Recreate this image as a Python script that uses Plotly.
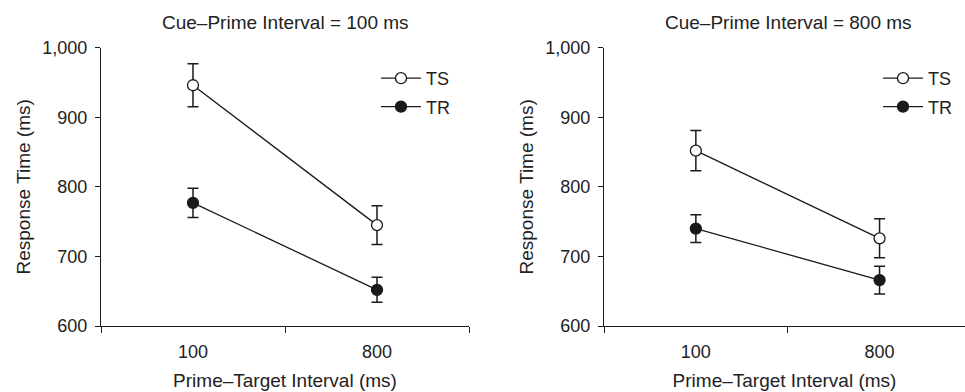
import plotly.graph_objects as go

categories = ["100", "800"]
ts_left = [946, 745]
ts_left_err = [31, 28]
tr_left = [777, 652]
tr_left_err = [21, 18]
ts_right = [852, 726]
ts_right_err = [29, 28]
tr_right = [740, 666]
tr_right_err = [20, 20]
panel_titles = ["Cue\u2013Prime Interval = 100 ms", "Cue\u2013Prime Interval = 800 ms"]
y_ticks = [600, 700, 800, 900, 1000]
y_ticktext = ["600", "700", "800", "900", "1,000"]

INK = "#1a1a1a"
FAM = "'Liberation Sans', Arial, sans-serif"
TICKFONT = dict(family=FAM, size=18, color="#222222")
TITLEFONT = dict(family=FAM, size=19, color="#222222")

fig = go.Figure()

def add_series(y, err, name, filled, xa, ya, legend):
    fig.add_trace(go.Scatter(
        x=categories, y=y, name=name, mode="lines+markers",
        xaxis=xa, yaxis=ya, legend=legend, legendgroup=name,
        line=dict(color=INK, width=1.3),
        marker=dict(symbol="circle", size=11,
                    color=INK if filled else "white",
                    line=dict(color=INK, width=1.3)),
        error_y=dict(type="data", array=err, visible=True,
                     color=INK, thickness=1.5, width=5.5),
    ))

add_series(ts_left, ts_left_err, "TS", False, "x", "y", "legend")
add_series(tr_left, tr_left_err, "TR", True, "x", "y", "legend")
add_series(ts_right, ts_right_err, "TS", False, "x2", "y2", "legend2")
add_series(tr_right, tr_right_err, "TR", True, "x2", "y2", "legend2")

W, H = 965, 392
ytop, ybot = 47.7, 326.0
ydom = [1 - ybot / H, 1 - ytop / H]

xcommon = dict(type="category", tickson="boundaries", ticks="outside", ticklen=6,
               tickwidth=1.3, tickcolor=INK, showline=True, linecolor=INK, linewidth=1.3,
               showgrid=False, zeroline=False, tickfont=TICKFONT, ticklabelstandoff=9,
               title=dict(text="Prime\u2013Target Interval (ms)", font=TITLEFONT, standoff=12),
               automargin=False, fixedrange=True)
ycommon = dict(range=[600, 1000], tickvals=y_ticks, ticktext=y_ticktext, ticks="outside",
               ticklen=5, tickwidth=1.3, tickcolor=INK, showline=True, linecolor=INK,
               linewidth=1.3, showgrid=False, zeroline=False, tickfont=TICKFONT,
               ticklabelstandoff=4,
               title=dict(text="Response Time (ms)", font=TITLEFONT, standoff=6),
               automargin=False, fixedrange=True)

fig.update_layout(
    width=W, height=H, margin=dict(l=0, r=0, t=0, b=0),
    paper_bgcolor="white", plot_bgcolor="white", font=TICKFONT,
    xaxis=dict(xcommon, domain=[101 / W, 469 / W], range=[-0.5, 1.5], anchor="y"),
    xaxis2=dict(xcommon, domain=[604 / W, 1.0], range=[-0.5, 1.465], anchor="y2"),
    yaxis=dict(ycommon, domain=ydom, anchor="x"),
    yaxis2=dict(ycommon, domain=ydom, anchor="x2"),
    legend=dict(x=376 / W, y=1 - 60 / H, xanchor="left", yanchor="top",
                bgcolor="rgba(0,0,0,0)", font=TICKFONT, tracegroupgap=2, itemwidth=40),
    legend2=dict(x=878 / W, y=1 - 60 / H, xanchor="left", yanchor="top",
                 bgcolor="rgba(0,0,0,0)", font=TICKFONT, tracegroupgap=2, itemwidth=40),
    showlegend=True,
    annotations=[
        dict(text=panel_titles[0], x=285 / W, y=1 - 22 / H, xref="paper", yref="paper",
             showarrow=False, font=TITLEFONT, xanchor="center", yanchor="middle"),
        dict(text=panel_titles[1], x=788 / W, y=1 - 22 / H, xref="paper", yref="paper",
             showarrow=False, font=TITLEFONT, xanchor="center", yanchor="middle"),
    ],
)

fig.write_html("out.html")
